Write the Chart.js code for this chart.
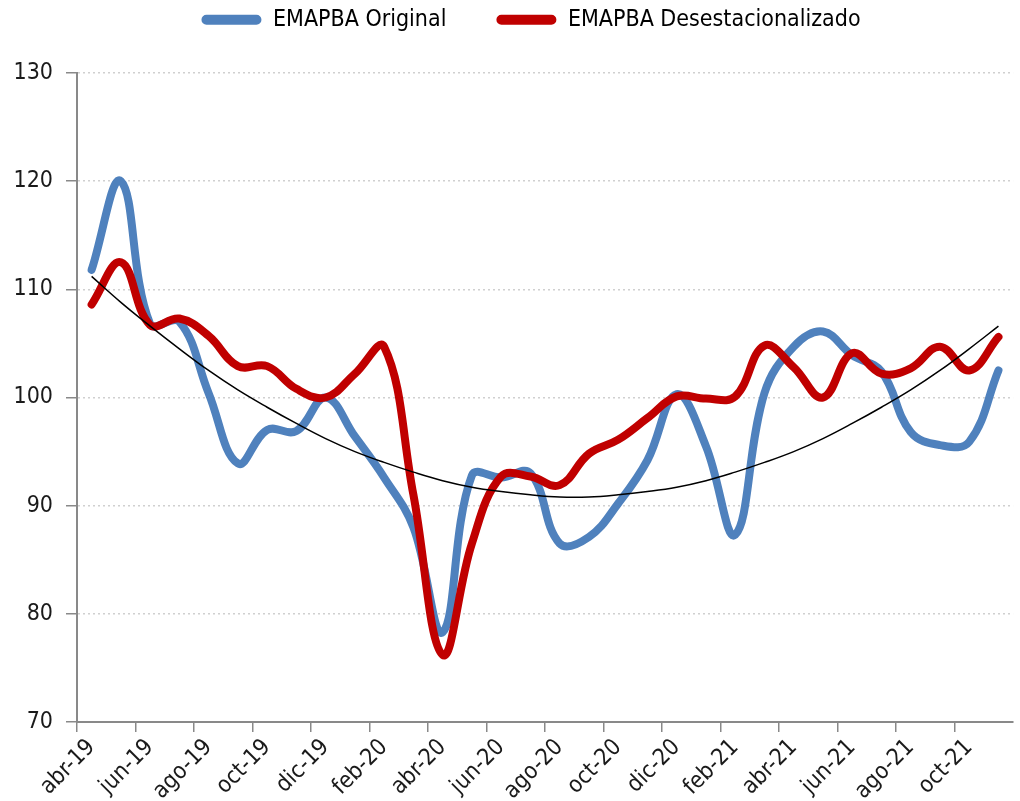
<!DOCTYPE html>
<html>
<head>
<meta charset="utf-8">
<script src="https://cdn.jsdelivr.net/npm/chart.js@4/dist/chart.umd.min.js"></script>
<style>
  html, body { margin: 0; padding: 0; background: #ffffff; }
  #wrap { width: 1020px; height: 801px; }
</style>
</head>
<body>
<div id="wrap"><canvas id="lineChart"></canvas></div>
<script>
"use strict"

// meses (eje x) y series
const meses = ['abr-19', 'may-19', 'jun-19', 'jul-19', 'ago-19', 'sep-19', 'oct-19', 'nov-19', 'dic-19',
  'ene-20', 'feb-20', 'mar-20', 'abr-20', 'may-20', 'jun-20', 'jul-20', 'ago-20', 'sep-20', 'oct-20',
  'nov-20', 'dic-20', 'ene-21', 'feb-21', 'mar-21', 'abr-21', 'may-21', 'jun-21', 'jul-21', 'ago-21',
  'sep-21', 'oct-21', 'nov-21'];

const original = [111.8, 120.0, 106.8, 107.0, 100.4, 93.9, 97.0, 96.9, 100.0, 96.4, 92.6, 88.0,
  78.3, 92.8, 92.6, 93.0, 86.5, 87.1, 90.2, 94.2, 100.3, 95.5, 87.3, 100.4,
  104.7, 106.1, 103.9, 102.4, 96.8, 95.6, 95.9, 102.5];

const desestacionalizado = [108.6, 112.5, 106.7, 107.3, 105.7, 102.9, 102.9, 100.8, 100.0, 102.2, 104.7, 91.0,
  76.2, 86.5, 92.7, 92.7, 91.9, 94.8, 96.1, 98.1, 100.1, 99.9, 100.1, 104.8,
  102.8, 100.0, 104.1, 102.2, 102.7, 104.7, 102.5, 105.6];

// linea de tendencia
const tendencia = [111.2, 108.8, 106.6, 104.5, 102.5, 100.7, 99.1, 97.6, 96.2, 95.0, 94.0, 93.1,
  92.3, 91.7, 91.3, 91.0, 90.8, 90.8, 91.0, 91.3, 91.7, 92.3, 93.1, 94.0,
  95.0, 96.2, 97.6, 99.1, 100.7, 102.5, 104.5, 106.6];

const yTicks = [70, 80, 90, 100, 110, 120, 130];

const FONT = '"DejaVu Sans Condensed", "Liberation Sans Narrow", sans-serif';
const FONT_SIZE = 23;
const AXIS_GRAY = '#898989';
const LEGEND_PAD = 50;

Chart.defaults.font.family = FONT;
Chart.defaults.color = '#1a1a1a';

// ajusta alto y posicion de la leyenda
const legendFix = {
  id: 'legendFix',
  beforeLayout(chart) {
    const lg = chart.legend;
    if (lg && !lg._patched) {
      const fit = lg.fit.bind(lg);
      lg.fit = function () {
        fit();
        this.height = 73;
      };
      lg._patched = true;
    }
  },
  afterLayout(chart) {
    const lg = chart.legend;
    const itemH = lg._itemHeight || FONT_SIZE * 1.2;
    lg.top = 22 - LEGEND_PAD - itemH / 2;
    lg.left += 22;
    lg.right += 22;
  }
};

new Chart(
  document.getElementById('lineChart'),
  {
    type: 'line',
    data: {
      labels: meses,
      datasets: [
        {
          label: 'EMAPBA Original',
          data: original,
          borderColor: '#4f81bd',
          backgroundColor: '#4f81bd',
          borderWidth: 8,
          tension: 0.4,
          pointRadius: 0,
          borderCapStyle: 'round',
          borderJoinStyle: 'round',
          order: 2
        },
        {
          label: 'EMAPBA Desestacionalizado',
          data: desestacionalizado,
          borderColor: '#c00000',
          backgroundColor: '#c00000',
          borderWidth: 8,
          tension: 0.4,
          pointRadius: 0,
          borderCapStyle: 'round',
          borderJoinStyle: 'round',
          order: 1
        },
        {
          label: 'tendencia',
          data: tendencia,
          borderColor: '#000000',
          borderWidth: 1.5,
          tension: 0.4,
          pointRadius: 0,
          order: 0
        }
      ]
    },
    options: {
      responsive: true,
      maintainAspectRatio: false,
      animation: false,
      layout: { padding: { top: 0, right: 2, bottom: 0, left: 0 } },
      plugins: {
        tooltip: { enabled: false },
        legend: {
          position: 'top',
          labels: {
            font: { size: FONT_SIZE },
            padding: LEGEND_PAD,
            boxWidth: 60,
            boxHeight: 10,
            useBorderRadius: true,
            borderRadius: 5,
            generateLabels(chart) {
              return chart.data.datasets.slice(0, 2).map((ds, i) => ({
                text: ds.label,
                fillStyle: ds.borderColor,
                strokeStyle: ds.borderColor,
                lineWidth: 0,
                borderRadius: 5,
                datasetIndex: i,
                hidden: false
              }));
            }
          }
        }
      },
      scales: {
        x: {
          offset: true,
          grid: {
            offset: true,
            drawOnChartArea: false,
            tickLength: 10,
            color: (ctx) => (ctx.index % 2 === 0 ? AXIS_GRAY : 'rgba(0,0,0,0)'),
            lineWidth: 1.5
          },
          border: { color: AXIS_GRAY, width: 2 },
          ticks: {
            autoSkip: false,
            maxRotation: 45,
            minRotation: 45,
            padding: 2,
            font: { size: FONT_SIZE },
            callback: function (val, index) {
              return index % 2 === 0 ? this.getLabelForValue(val) : '';
            }
          },
          afterFit(scale) { scale.height = 79; }
        },
        y: {
          min: 70,
          max: 130,
          afterBuildTicks(scale) {
            scale.ticks = yTicks.map(v => ({ value: v }));
          },
          grid: {
            color: '#d0d0d0',
            lineWidth: 1.5,
            tickLength: 11,
            tickColor: AXIS_GRAY,
            tickBorderDash: []
          },
          border: { color: AXIS_GRAY, width: 2, dash: [2, 3] },
          ticks: {
            padding: 13,
            font: { size: FONT_SIZE }
          },
          afterFit(scale) { scale.width = 77; }
        }
      }
    },
    plugins: [legendFix]
  }
);
</script>
</body>
</html>
